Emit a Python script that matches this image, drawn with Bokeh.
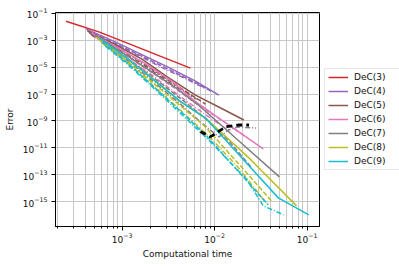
from bokeh.plotting import figure
from bokeh.models import FixedTicker, Legend, LegendItem, Range1d
from bokeh.embed import file_html
from bokeh.resources import INLINE

labels = ["DeC(3)", "DeC(4)", "DeC(5)", "DeC(6)", "DeC(7)", "DeC(8)", "DeC(9)"]
colors = ["#d62728", "#9467bd", "#8c564b", "#e377c2", "#7f7f7f", "#bcbd22", "#17becf"]

# ---- DeC(3)
time_dec3 = [2.47e-4, 5.68e-4, 1.21e-3, 2.57e-3, 5.47e-3]
err_dec3 = [2.68e-2, 4.08e-3, 5.23e-4, 6.71e-5, 8.61e-6]

# ---- DeC(4)
time_dec4_a = [4.09e-4, 8.07e-4, 1.59e-3, 3.14e-3, 6.20e-3, 1.11e-2]
err_dec4_a = [6.81e-3, 8.74e-4, 9.45e-5, 1.02e-5, 9.32e-7, 8.49e-8]
time_dec4_b = [4.20e-4, 7.87e-4, 1.55e-3, 2.99e-3, 5.75e-3, 9.51e-3]
err_dec4_b = [5.74e-3, 7.37e-4, 7.96e-5, 8.61e-6, 9.32e-7, 1.42e-7]
time_dec4_c = [4.41e-4, 8.28e-4, 1.55e-3, 2.91e-3, 5.20e-3, 7.77e-3]
err_dec4_c = [4.08e-3, 5.23e-4, 6.71e-5, 7.26e-6, 1.11e-6, 2.81e-7]

# ---- DeC(5)
time_dec5_a = [4.20e-4, 8.28e-4, 1.63e-3, 3.22e-3, 6.20e-3, 1.16e-2, 2.07e-2]
err_dec5_a = [4.84e-3, 5.23e-4, 4.02e-5, 1.56e-6, 8.49e-8, 9.18e-9, 1.18e-9]
time_dec5_b = [4.41e-4, 8.49e-4, 1.63e-3, 3.14e-3, 6.04e-3, 7.97e-3]
err_dec5_b = [3.44e-3, 3.72e-4, 2.40e-5, 1.11e-6, 6.03e-8, 1.82e-8]
time_dec5_c = [4.64e-4, 8.93e-4, 1.72e-3, 3.30e-3, 6.36e-3]
err_dec5_c = [2.44e-3, 2.22e-4, 1.44e-5, 6.62e-7, 4.28e-8]

# ---- DeC(6)
time_dec6_a = [4.64e-4, 9.16e-4, 1.81e-3, 3.56e-3, 6.20e-3, 1.42e-2, 3.35e-2]
err_dec6_a = [3.44e-3, 2.64e-4, 1.71e-5, 7.85e-7, 2.70e-8, 5.01e-10, 8.25e-12]
time_dec6_b = [5.01e-4, 9.63e-4, 1.85e-3, 3.56e-3, 6.86e-3, 1.32e-2, 2.18e-2]
err_dec6_b = [2.06e-3, 1.33e-4, 7.26e-6, 3.34e-7, 1.29e-8, 7.05e-10, 6.43e-11]
time_dec6_c = [5.68e-4, 1.09e-3, 2.10e-3, 4.04e-3, 7.77e-3, 1.50e-2]
err_dec6_c = [1.04e-3, 5.66e-5, 2.60e-6, 8.49e-8, 3.29e-9, 1.51e-10]

# ---- DeC(7)
time_dec7_a = [5.01e-4, 9.87e-4, 1.95e-3, 3.84e-3, 6.68e-3, 1.83e-2, 5.01e-2]
err_dec7_a = [2.44e-3, 1.33e-4, 6.12e-6, 2.81e-7, 1.53e-8, 3.24e-11, 6.85e-14]
time_dec7_b = [5.40e-4, 1.04e-3, 2.00e-3, 3.84e-3, 7.39e-3, 1.42e-2, 2.47e-2]
err_dec7_b = [1.46e-3, 6.71e-5, 2.60e-6, 8.49e-8, 2.34e-9, 3.24e-11, 3.79e-13]
time_dec7_c = [5.97e-4, 1.15e-3, 2.21e-3, 4.25e-3, 7.03e-3, 1.11e-2, 1.42e-2, 1.78e-2, 2.81e-2]
err_dec7_c = [7.37e-4, 2.85e-5, 7.85e-7, 1.82e-8, 8.37e-10, 6.43e-11, 2.13e-10, 3.56e-10, 3.00e-10]

# ---- DeC(8)
time_dec8_a = [5.26e-4, 1.04e-3, 2.05e-3, 4.04e-3, 7.97e-3, 2.47e-2, 7.68e-2]
err_dec8_a = [1.73e-3, 6.71e-5, 1.85e-6, 3.61e-8, 1.66e-9, 1.26e-12, 4.79e-16]
time_dec8_b = [5.68e-4, 1.09e-3, 2.10e-3, 4.04e-3, 7.77e-3, 1.78e-2, 4.09e-2]
err_dec8_b = [1.04e-3, 3.39e-5, 7.85e-7, 1.82e-8, 4.22e-10, 7.51e-13, 1.13e-15]
time_dec8_c = [6.28e-4, 1.21e-3, 2.32e-3, 4.47e-3, 8.60e-3, 1.74e-2, 3.61e-2]
err_dec8_c = [5.23e-4, 1.44e-5, 2.81e-7, 4.63e-9, 7.63e-11, 4.50e-13, 8.01e-16]

# ---- DeC(9)
time_dec9_a = [5.68e-4, 1.12e-3, 2.21e-3, 4.36e-3, 7.97e-3, 1.97e-2, 4.88e-2, 1.04e-1]
err_dec9_a = [1.46e-3, 4.77e-5, 1.11e-6, 2.56e-8, 1.66e-9, 1.77e-12, 1.88e-15, 1.03e-16]
time_dec9_b = [6.12e-4, 1.18e-3, 2.27e-3, 4.36e-3, 8.38e-3, 1.78e-2, 3.80e-2]
err_dec9_b = [7.37e-4, 1.71e-5, 2.81e-7, 4.63e-9, 6.43e-11, 1.91e-13, 5.69e-16]
time_dec9_c = [6.60e-4, 1.27e-3, 2.44e-3, 4.70e-3, 9.04e-3, 2.24e-2, 3.35e-2, 5.54e-2]
err_dec9_c = [3.72e-4, 8.61e-6, 1.42e-7, 1.97e-9, 2.73e-11, 4.10e-14, 4.79e-16, 1.03e-16]

# ---- black dashed series
time_ref = [7.03e-3, 9.04e-3, 1.32e-2, 1.83e-2, 2.35e-2]
err_ref = [1.59e-10, 6.77e-11, 3.74e-10, 5.01e-10, 5.01e-10]

x_major = [1e-3, 1e-2, 1e-1]
x_minor = [m * d for d in (1e-4, 1e-3, 1e-2) for m in range(2, 10)]
y_major = [1e-1, 1e-3, 1e-5, 1e-7, 1e-9, 1e-11, 1e-13, 1e-15]

series = [
    [(time_dec3, err_dec3)],
    [(time_dec4_a, err_dec4_a), (time_dec4_b, err_dec4_b), (time_dec4_c, err_dec4_c)],
    [(time_dec5_a, err_dec5_a), (time_dec5_b, err_dec5_b), (time_dec5_c, err_dec5_c)],
    [(time_dec6_a, err_dec6_a), (time_dec6_b, err_dec6_b), (time_dec6_c, err_dec6_c)],
    [(time_dec7_a, err_dec7_a), (time_dec7_b, err_dec7_b), (time_dec7_c, err_dec7_c)],
    [(time_dec8_a, err_dec8_a), (time_dec8_b, err_dec8_b), (time_dec8_c, err_dec8_c)],
    [(time_dec9_a, err_dec9_a), (time_dec9_b, err_dec9_b), (time_dec9_c, err_dec9_c)],
]
dashes = ["solid", "5 2", "5 2 1 2"]

FONT = "DejaVu Sans"

p = figure(frame_width=264, frame_height=214, x_axis_type="log", y_axis_type="log",
           x_range=Range1d(1.9e-4, 0.136), y_range=Range1d(1.39e-17, 0.1186),
           output_backend="svg", toolbar_location=None,
           min_border_left=55, min_border_right=0, min_border_top=12, min_border_bottom=38)
p.background_fill_color = "white"
p.border_fill_color = "white"
p.outline_line_color = "black"
p.outline_line_width = 1

legend_items = []
for lab, col, group in zip(labels, colors, series):
    first = None
    for (xs, ys), dash in zip(group, dashes):
        r = p.line(xs, ys, line_color=col, line_width=1.5, line_dash=dash)
        if first is None:
            first = r
    legend_items.append(LegendItem(label=lab, renderers=[first]))

p.line(time_ref, err_ref, line_color="black", line_width=2.8, line_dash="6 4")

# axes
xt = FixedTicker(ticks=x_major, minor_ticks=x_minor)
yt = FixedTicker(ticks=y_major, minor_ticks=[])
p.xaxis.ticker = xt
p.yaxis.ticker = yt
p.xgrid.ticker = xt
p.ygrid.ticker = yt
for ax in (p.xaxis[0], p.yaxis[0]):
    ax.axis_line_color = "black"
    ax.major_tick_line_color = "black"
    ax.minor_tick_line_color = "black"
    ax.major_tick_out = 4
    ax.major_tick_in = 0
    ax.minor_tick_out = 2
    ax.minor_tick_in = 0
    ax.major_label_text_font = FONT
    ax.major_label_text_font_size = "9px"
    ax.major_label_text_color = "#111111"
    ax.axis_label_text_font = FONT
    ax.axis_label_text_font_size = "9px"
    ax.axis_label_text_font_style = "normal"
    ax.axis_label_text_color = "#111111"
p.yaxis.minor_tick_line_color = None
p.xaxis.axis_label = "Computational time"
p.yaxis.axis_label = "Error"
p.xaxis.major_label_standoff = 2
p.xaxis.axis_label_standoff = 3
p.yaxis.major_label_standoff = 4
p.yaxis.axis_label_standoff = 5

p.xgrid.grid_line_color = "#c8c8c8"
p.xgrid.minor_grid_line_color = "#c8c8c8"
p.ygrid.grid_line_color = "#c8c8c8"
p.xgrid.grid_line_width = 1
p.ygrid.grid_line_width = 1

legend = Legend(items=legend_items, location="center_left")
legend.label_text_font = FONT
legend.label_text_font_size = "9px"
legend.label_text_color = "#111111"
legend.glyph_width = 20
legend.glyph_height = 10
legend.label_height = 10
legend.label_width = 46
legend.label_standoff = 6
legend.spacing = 4
legend.padding = 3
legend.margin = 5
legend.border_line_color = "#d0d0d0"
legend.border_line_width = 1
legend.background_fill_color = "white"
legend.background_fill_alpha = 1.0
p.add_layout(legend, "right")

open("out.html", "w").write(file_html(p, INLINE))
